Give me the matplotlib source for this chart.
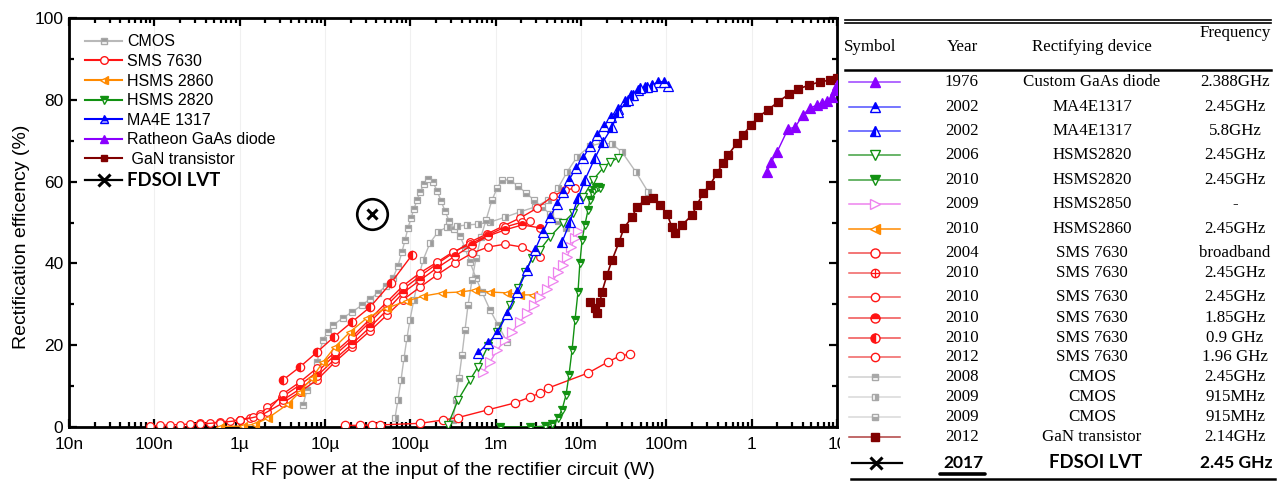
import matplotlib
matplotlib.use("Agg")
import matplotlib.pyplot as plt
from matplotlib.lines import Line2D
from matplotlib.font_manager import FontProperties
from matplotlib.ticker import FixedLocator, LogLocator, MultipleLocator, NullFormatter

plt.rcParams['font.family'] = ['Liberation Sans', 'DejaVu Sans']

# ---------------- data (power in W, efficiency in %) ----------------
cmos_2008_p = [5.52e-6, 6.15e-6, 7.05e-6, 8.06e-6, 9.48e-6, 1.08e-5, 1.24e-5, 1.63e-5, 2.07e-5, 2.71e-5,
               3.37e-5, 4.18e-5, 5.19e-5, 6.26e-5, 7.16e-5, 7.98e-5, 8.67e-5, 9.39e-5, 1.02e-4, 1.10e-4,
               1.20e-4, 1.30e-4, 1.45e-4, 1.61e-4, 1.84e-4, 2.06e-4, 2.29e-4, 2.55e-4, 2.84e-4, 3.25e-4,
               3.82e-4, 4.37e-4, 5.0e-4, 5.89e-4, 6.92e-4, 8.59e-4, 1.07e-3, 1.36e-3]
cmos_2008_e = [5.4, 9.0, 11.5, 15.9, 21.3, 23.2, 24.9, 26.7, 28.1, 29.8,
               31.3, 32.8, 34.5, 36.4, 39.4, 42.8, 45.7, 48.7, 51.1, 53.3,
               55.5, 57.5, 59.4, 60.6, 59.9, 57.7, 55.3, 52.8, 50.4, 48.4,
               46.7, 43.8, 40.3, 36.4, 33.0, 28.6, 24.9, 20.8]

cmos_2009a_p = [6.61e-5, 7.16e-5, 7.78e-5, 8.43e-5, 9.14e-5, 9.9e-5, 1.10e-4, 1.23e-4, 1.41e-4, 1.70e-4,
                2.11e-4, 2.69e-4, 3.52e-4, 4.61e-4, 6.21e-4, 8.59e-4, 1.29e-3, 1.93e-3, 2.89e-3, 4.10e-3,
                5.37e-3, 6.85e-3, 8.97e-3, 1.27e-2, 1.76e-2, 2.31e-2, 3.03e-2, 4.41e-2, 6.10e-2]
cmos_2009a_e = [2.2, 6.6, 11.5, 16.9, 21.8, 26.2, 31.1, 35.9, 40.8, 45.0,
                47.7, 48.9, 49.1, 49.4, 49.6, 50.1, 51.3, 52.6, 53.8, 55.5,
                58.4, 62.3, 66.0, 68.7, 69.4, 69.2, 67.2, 62.3, 57.5]

cmos_2009b_p = [3.16e-4, 3.43e-4, 3.72e-4, 4.03e-4, 4.37e-4, 4.74e-4, 5.28e-4, 5.89e-4, 6.73e-4, 7.71e-4,
                9.06e-4, 1.04e-3, 1.19e-3, 1.47e-3, 1.83e-3, 2.27e-3, 2.81e-3, 3.49e-3, 4.33e-3, 5.37e-3,
                6.67e-3]
cmos_2009b_e = [1.7, 6.6, 12.0, 17.6, 23.7, 29.8, 35.9, 41.3, 46.5, 50.6,
                55.5, 58.4, 60.4, 60.4, 58.9, 57.2, 55.5, 53.8, 52.1, 50.4,
                48.7]

sms_2004_p = [8.9e-8, 1.16e-7, 1.53e-7, 2.0e-7, 2.62e-7, 3.43e-7, 4.49e-7, 5.89e-7, 7.71e-7, 1.0e-6,
              1.32e-6, 1.73e-6, 2.09e-6, 3.13e-6, 5.09e-6, 8.06e-6, 1.31e-5, 2.07e-5, 3.37e-5, 5.33e-5,
              8.20e-5, 1.30e-4, 2.06e-4, 3.16e-4, 5.0e-4, 7.91e-4, 1.22e-3, 1.93e-3, 3.05e-3, 4.70e-3,
              6.50e-3, 8.51e-3]
sms_2004_e = [0.24, 0.4, 0.5, 0.6, 0.7, 0.9, 1.0, 1.2, 1.5, 1.8,
              2.3, 3.1, 4.9, 7.3, 10.3, 13.4, 17.6, 21.3, 25.7, 29.8,
              33.7, 36.9, 39.9, 42.5, 45.2, 47.2, 49.1, 51.1, 53.5, 56.5,
              57.9, 58.4]

sms_2010a_p = [1.0e-6, 1.43e-6, 2.09e-6, 3.22e-6, 5.09e-6, 8.06e-6, 1.31e-5, 2.07e-5, 3.37e-5, 5.33e-5,
               8.20e-5, 1.30e-4, 2.06e-4, 3.16e-4, 5.0e-4, 8.13e-4, 1.29e-3, 2.04e-3, 2.52e-3]
sms_2010a_e = [1.7, 2.4, 3.7, 8.1, 11.0, 14.4, 18.3, 22.0, 26.4, 30.6,
               34.5, 37.7, 40.3, 42.8, 44.7, 46.9, 48.9, 50.1, 50.4]

sms_2010b_p = [3.43e-7, 5.89e-7, 1.0e-6, 1.73e-6, 3.22e-6, 5.09e-6, 8.06e-6, 1.31e-5, 2.07e-5, 3.37e-5,
               5.33e-5, 8.20e-5, 1.30e-4, 2.06e-4, 3.34e-4, 5.28e-4, 8.13e-4, 1.29e-3, 2.04e-3, 3.31e-3]
sms_2010b_e = [0.7, 1.1, 1.6, 2.7, 5.9, 8.6, 11.5, 15.9, 19.6, 23.5,
               27.4, 31.1, 34.2, 37.2, 40.1, 42.5, 44.0, 44.7, 44.0, 41.6]

sms_185_p = [3.22e-6, 5.09e-6, 8.06e-6, 1.31e-5, 2.07e-5, 3.37e-5, 5.33e-5, 8.20e-5, 1.30e-4, 2.06e-4,
             3.34e-4, 5.28e-4, 8.13e-4, 1.29e-3, 2.04e-3, 3.31e-3]
sms_185_e = [6.6, 9.3, 12.5, 16.6, 20.3, 24.4, 28.6, 32.8, 35.9, 38.9,
             41.8, 44.5, 46.7, 48.2, 49.4, 48.7]

sms_09_p = [3.22e-6, 5.09e-6, 8.06e-6, 1.27e-5, 2.07e-5, 3.37e-5, 5.93e-5, 1.05e-4]
sms_09_e = [11.5, 14.7, 18.3, 22.0, 25.7, 29.3, 35.2, 42.1]

sms_2012_p = [1.71e-5, 2.57e-5, 3.56e-5, 4.41e-5, 1.30e-4, 2.41e-4, 3.62e-4, 8.13e-4, 1.69e-3, 2.52e-3,
              3.31e-3, 4.10e-3, 1.21e-2, 2.07e-2, 2.86e-2, 3.75e-2]
sms_2012_e = [0.4, 0.4, 0.5, 0.5, 0.9, 1.7, 2.3, 4.2, 5.9, 7.3,
              8.3, 9.5, 13.2, 15.9, 17.4, 17.8]

hsms2860_p = [5.89e-7, 1.09e-6, 1.51e-6, 2.15e-6, 3.68e-6, 5.09e-6, 7.05e-6, 9.48e-6, 1.31e-5, 1.96e-5,
              3.11e-5, 5.33e-5, 9.14e-5, 1.41e-4, 2.35e-4, 3.82e-4, 5.73e-4, 8.59e-4, 1.36e-3, 1.93e-3,
              2.74e-3]
hsms2860_e = [0.1, 0.24, 0.7, 2.2, 5.6, 8.6, 12.0, 15.9, 19.6, 23.2,
              26.7, 29.1, 30.8, 32.0, 32.8, 33.0, 33.5, 33.0, 32.8, 32.3,
              32.3]

hsms2820_2006_p = [2.76e-4, 3.62e-4, 5.0e-4, 6.21e-4, 8.13e-4, 1.04e-3, 1.47e-3, 1.83e-3, 2.21e-3, 2.67e-3,
                   3.31e-3, 4.33e-3, 6.15e-3, 8.06e-3, 1.06e-2, 1.38e-2, 1.81e-2, 2.19e-2, 2.72e-2]
hsms2820_2006_e = [0.5, 6.6, 11.5, 14.7, 19.8, 23.2, 29.8, 34.0, 37.9, 41.3,
                   43.3, 46.5, 49.9, 52.3, 56.2, 60.4, 63.3, 64.8, 65.8]

hsms2820_2010_p = [1.12e-3, 2.52e-3, 3.79e-3, 4.57e-3, 5.37e-3, 5.99e-3, 6.67e-3, 7.23e-3, 7.85e-3, 8.51e-3,
                   9.22e-3, 9.7e-3, 1.03e-2, 1.11e-2, 1.21e-2, 1.27e-2, 1.35e-2, 1.42e-2, 1.50e-2, 1.58e-2,
                   1.67e-2]
hsms2820_2010_e = [0.0, 0.0, 0.2, 0.7, 2.2, 4.2, 7.8, 12.7, 18.8, 26.2,
                   33.0, 40.1, 45.7, 49.4, 53.1, 55.5, 57.2, 57.9, 58.4, 58.7,
                   58.4]

hsms2850_p = [7.11e-4, 8.59e-4, 1.04e-3, 1.29e-3, 1.55e-3, 1.93e-3, 2.33e-3, 2.81e-3, 3.31e-3, 4.0e-3,
              4.70e-3, 5.37e-3, 6.15e-3, 6.85e-3, 7.64e-3, 8.51e-3, 9.22e-3]
hsms2850_e = [13.4, 15.9, 18.8, 21.3, 23.2, 25.7, 27.9, 29.8, 31.8, 33.7,
              35.7, 37.9, 39.6, 41.6, 44.0, 46.2, 47.9]

ma4e_245_p = [6.21e-4, 8.13e-4, 1.04e-3, 1.36e-3, 1.78e-3, 2.33e-3, 2.89e-3, 3.59e-3, 4.33e-3, 5.23e-3,
              6.15e-3, 7.23e-3, 8.74e-3, 1.06e-2, 1.27e-2, 1.54e-2, 1.86e-2, 2.25e-2, 2.72e-2, 3.28e-2,
              3.85e-2, 4.65e-2, 5.62e-2, 6.79e-2, 7.98e-2, 9.39e-2, 0.105]
ma4e_245_e = [18.1, 20.5, 23.0, 27.6, 33.0, 38.4, 43.3, 47.7, 51.3, 54.5,
              57.5, 60.4, 63.3, 65.8, 68.7, 71.4, 73.6, 75.8, 77.8, 79.7,
              81.2, 82.4, 83.1, 83.6, 84.4, 84.4, 83.4]

ma4e_58_p = [5.99e-3, 7.43e-3, 9.22e-3, 1.11e-2, 1.46e-2, 1.81e-2, 2.31e-2, 2.72e-2, 3.56e-2, 4.06e-2,
             4.91e-2, 5.93e-2, 6.79e-2]
ma4e_58_e = [45.2, 50.1, 56.0, 60.4, 65.8, 69.7, 73.3, 77.0, 80.0, 81.2,
             82.9, 83.1, 83.4]

gan_p = [1.27e-2, 1.46e-2, 1.54e-2, 1.67e-2, 1.76e-2, 2.02e-2, 2.31e-2, 2.79e-2, 3.19e-2, 3.96e-2,
         4.53e-2, 5.62e-2, 6.98e-2, 8.43e-2, 0.102, 0.116, 0.126, 0.153, 0.200, 0.229,
         0.269, 0.325, 0.393, 0.461, 0.528, 0.673, 0.791, 0.98, 1.19, 1.55,
         2.04, 2.74, 3.49, 4.70, 6.32, 8.28, 10.0]
gan_e = [30.6, 29.1, 27.9, 30.6, 33.0, 37.2, 40.8, 45.2, 48.7, 51.3,
         53.8, 55.5, 56.0, 54.3, 52.1, 48.9, 47.4, 49.4, 51.8, 54.3,
         57.2, 59.2, 62.1, 64.5, 66.5, 69.4, 71.4, 73.8, 75.8, 77.5,
         79.5, 81.4, 82.6, 83.6, 84.4, 84.8, 85.3]

raytheon_p = [1.51, 1.69, 1.98, 2.67, 3.22, 4.0, 4.83, 5.83, 6.67, 7.64, 8.73, 9.48, 10.0]
raytheon_e = [62.3, 64.8, 67.2, 72.9, 73.3, 76.3, 78.0, 78.7, 79.2, 79.7, 80.7, 82.4, 83.6]

fdsoi_p = [3.56e-5]
fdsoi_e = [52.1]

x_ticks = [1e-8, 1e-7, 1e-6, 1e-5, 1e-4, 1e-3, 1e-2, 1e-1, 1, 10]
x_ticklabels = ['10n', '100n', '1µ', '10µ', '100µ', '1m', '10m', '100m', '1', '10']
y_ticks = [0, 20, 40, 60, 80, 100]

legend_labels = ['CMOS', 'SMS 7630', 'HSMS 2860', 'HSMS 2820', 'MA4E 1317',
                 'Ratheon GaAs diode', ' GaN transistor', 'FDSOI LVT']

tab_years = ['1976', '2002', '2002', '2006', '2010', '2009', '2010', '2004', '2010', '2010',
             '2010', '2010', '2012', '2008', '2009', '2009', '2012']
tab_devices = ['Custom GaAs diode', 'MA4E1317', 'MA4E1317', 'HSMS2820', 'HSMS2820', 'HSMS2850',
               'HSMS2860', 'SMS 7630', 'SMS 7630', 'SMS 7630', 'SMS 7630', 'SMS 7630', 'SMS 7630',
               'CMOS', 'CMOS', 'CMOS', 'GaN transistor']
tab_freqs = ['2.388GHz', '2.45GHz', '5.8GHz', '2.45GHz', '2.45GHz', '-', '2.45GHz', 'broadband',
             '2.45GHz', '2.45GHz', '1.85GHz', '0.9 GHz', '1.96 GHz', '2.45GHz', '915MHz', '915MHz',
             '2.14GHz']
tab_last = ['2017', 'FDSOI LVT', '2.45 GHz']

# ---------------- styles ----------------
GRAY = '#b9b9b9'
RED = '#ff1414'
ORANGE = '#ff8a00'
GREEN = '#129112'
BLUE = '#0000ff'
PURPLE = '#8a00ff'
VIOLET = '#ee82ee'
GAN = '#800000'

fig = plt.figure(figsize=(12.8, 4.83), dpi=100)
ax = fig.add_axes([69 / 1280, 1 - 427 / 483, (837 - 69) / 1280, (427 - 18) / 483])


def curve(p, e, color, marker, ms=5, fill='none', mfc=None, lw=1.0, mew=0.9, z=3, mec=None):
    kw = dict(color=color, lw=lw, marker=marker, ms=ms, mew=mew, zorder=z,
              mec=mec if mec else color)
    if fill == 'none':
        kw.update(mfc='white')
    elif fill == 'full':
        kw.update(mfc=mfc if mfc else color)
    else:
        kw.update(fillstyle=fill, mfc=mfc if mfc else color, markerfacecoloralt='white')
    ax.plot(p, e, **kw)


# CMOS
curve(cmos_2008_p, cmos_2008_e, GRAY, 's', ms=3.8, fill='top', mfc='#9a9a9a', mec='#a8a8a8')
curve(cmos_2009a_p, cmos_2009a_e, GRAY, 's', ms=3.8, fill='right', mfc='#9a9a9a', mec='#a8a8a8')
curve(cmos_2009b_p, cmos_2009b_e, GRAY, 's', ms=3.8, fill='bottom', mfc='#9a9a9a', mec='#a8a8a8')
# SMS 7630
curve(sms_2004_p, sms_2004_e, RED, 'o', ms=5.5)
curve(sms_2010a_p, sms_2010a_e, RED, 'o', ms=5.5)
curve(sms_2010b_p, sms_2010b_e, RED, 'o', ms=5.5)
curve(sms_185_p, sms_185_e, RED, 'o', ms=5.5, fill='top')
curve(sms_09_p, sms_09_e, RED, 'o', ms=6, fill='left')
curve(sms_2012_p, sms_2012_e, RED, 'o', ms=6)
# HSMS 2860
curve(hsms2860_p, hsms2860_e, ORANGE, '<', ms=6, fill='right')
# HSMS 2850
curve(hsms2850_p, hsms2850_e, VIOLET, '>', ms=7)
# HSMS 2820
curve(hsms2820_2006_p, hsms2820_2006_e, GREEN, 'v', ms=6)
curve(hsms2820_2010_p, hsms2820_2010_e, GREEN, 'v', ms=6, fill='top')
# MA4E 1317
curve(ma4e_245_p, ma4e_245_e, BLUE, '^', ms=6.5, fill='top')
curve(ma4e_58_p, ma4e_58_e, BLUE, '^', ms=6.5, fill='left')
# GaN
curve(gan_p, gan_e, GAN, 's', ms=5.5, fill='full', lw=1.2)
# Raytheon
curve(raytheon_p, raytheon_e, PURPLE, '^', ms=6.5, fill='full')
# FDSOI LVT
ax.plot(fdsoi_p, fdsoi_e, ls='none', marker='o', ms=22, mfc='none', mec='black', mew=1.9, zorder=5)
ax.plot(fdsoi_p, fdsoi_e, ls='none', marker='x', ms=7, mec='black', mew=2.2, zorder=5)

# axes formatting
ax.set_xscale('log')
ax.set_xlim(1e-8, 10)
ax.set_ylim(0, 100)
ax.xaxis.set_major_locator(FixedLocator(x_ticks))
ax.set_xticklabels(x_ticklabels)
ax.xaxis.set_minor_locator(LogLocator(base=10, subs=range(2, 10), numticks=20))
ax.xaxis.set_minor_formatter(NullFormatter())
ax.set_yticks(y_ticks)
ax.yaxis.set_minor_locator(MultipleLocator(10))
ax.tick_params(which='both', direction='in', top=True, right=True, labelsize=12.5, colors='black')
ax.tick_params(which='major', length=5.5, width=1.6)
ax.tick_params(which='minor', length=3.5, width=1.6)
ax.tick_params(axis='x', pad=7)
ax.tick_params(axis='y', pad=4)
for s in ax.spines.values():
    s.set_linewidth(2.0)
ax.grid(True, which='major', axis='x', color='#f0f0f0', lw=0.8, zorder=0)
ax.set_axisbelow(True)

ax.set_xlabel('RF power at the input of the rectifier circuit (W)', fontsize=14)
ax.xaxis.set_label_coords(0.5, -0.086)
ax.set_ylabel('Rectification efficency (%)', fontsize=14)
ax.yaxis.set_label_coords(-0.051, 0.466)

# legend
handles = [
    Line2D([], [], color=GRAY, marker='s', ms=4, mfc='#9a9a9a', mec='#a8a8a8', fillstyle='top', markerfacecoloralt='white'),
    Line2D([], [], color=RED, marker='o', ms=5.5, mfc='white'),
    Line2D([], [], color=ORANGE, marker='<', ms=6, fillstyle='right', markerfacecoloralt='white'),
    Line2D([], [], color=GREEN, marker='v', ms=6, fillstyle='top', markerfacecoloralt='white'),
    Line2D([], [], color=BLUE, marker='^', ms=6, fillstyle='top', markerfacecoloralt='#b0b0ff'),
    Line2D([], [], color=PURPLE, marker='^', ms=6),
    Line2D([], [], color=GAN, marker='s', ms=5),
    Line2D([], [], color='black', marker='x', ms=9, mew=2.2, lw=1.6),
]
leg = ax.legend(handles, legend_labels, loc='upper left', frameon=False, fontsize=11.5,
                handlelength=2.3, handletextpad=0.3, labelspacing=0.29, borderaxespad=0.62,
                borderpad=0.4)
leg.get_texts()[-1].set_fontproperties(FontProperties(family='Lato', weight='bold', size=13.3))

# ---------------- table on the right ----------------
tax = fig.add_axes([840 / 1280, 0, 440 / 1280, 1], zorder=5)
tax.set_xlim(840, 1280)
tax.set_ylim(483, 0)
tax.set_xticks([])
tax.set_yticks([])
for s in tax.spines.values():
    s.set_visible(False)
tax.patch.set_facecolor('white')

serif = ['Liberation Serif', 'DejaVu Serif']
tfs = 12.2
tax.plot([845, 1271], [19.5, 19.5], color='black', lw=1.2)
tax.plot([845, 1271], [22.8, 22.8], color='black', lw=1.2)
tax.plot([845, 1271], [70, 70], color='black', lw=1.8)
tax.plot([851, 1275], [479, 479], color='black', lw=1.8)

tax.text(870, 47, 'Symbol', family=serif, fontsize=tfs, ha='center', va='center')
tax.text(962, 47, 'Year', family=serif, fontsize=tfs, ha='center', va='center')
tax.text(1092, 47, 'Rectifying device', family=serif, fontsize=tfs, ha='center', va='center')
tax.text(1235, 33, 'Frequency', family=serif, fontsize=tfs, ha='center', va='center')

row_y = [82, 107, 131, 155, 180, 204, 229, 253, 273, 297, 318, 338, 357, 377, 397, 417, 437]
row_sym = [
    dict(c=PURPLE, lc='#9b40ff', m='^', fs='full', ms=7),
    dict(c=BLUE, lc='#5050ff', m='^', fs='top', ms=6.5),
    dict(c=BLUE, lc='#5050ff', m='^', fs='left', ms=6.5),
    dict(c=GREEN, lc='#40a040', m='v', fs='none', ms=6.5),
    dict(c=GREEN, lc='#40a040', m='v', fs='top', ms=7),
    dict(c=VIOLET, lc=VIOLET, m='>', fs='none', ms=7.5),
    dict(c=ORANGE, lc=ORANGE, m='<', fs='right', ms=7),
    dict(c=RED, lc='#f05050', m='o', fs='none', ms=6.5),
    dict(c=RED, lc='#f06060', m='o', fs='none', ms=6, plus=True),
    dict(c=RED, lc='#f06060', m='o', fs='none', ms=6),
    dict(c=RED, lc='#f05050', m='o', fs='top', ms=6.5),
    dict(c=RED, lc='#f05050', m='o', fs='left', ms=6.5),
    dict(c=RED, lc='#f06060', m='o', fs='none', ms=6),
    dict(c='#a8a8a8', lc='#cfcfcf', m='s', fs='top', ms=5),
    dict(c='#a8a8a8', lc='#d8d8d8', m='s', fs='right', ms=5),
    dict(c='#a8a8a8', lc='#d8d8d8', m='s', fs='bottom', ms=5),
    dict(c=GAN, lc='#b04040', m='s', fs='full', ms=6),
]
for y, sym, yr, dev, fr in zip(row_y, row_sym, tab_years, tab_devices, tab_freqs):
    tax.plot([849, 900], [y, y], color=sym['lc'], lw=1.1)
    if sym['fs'] == 'none':
        tax.plot([875], [y], marker=sym['m'], ms=sym['ms'], mfc='white', mec=sym['c'], mew=1.0)
    elif sym['fs'] == 'full':
        tax.plot([875], [y], marker=sym['m'], ms=sym['ms'], mfc=sym['c'], mec=sym['c'])
    else:
        tax.plot([875], [y], marker=sym['m'], ms=sym['ms'], fillstyle=sym['fs'], mfc=sym['c'],
                 markerfacecoloralt='white', mec=sym['c'], mew=1.0)
    if sym.get('plus'):
        tax.plot([875], [y], marker='+', ms=6, mec=sym['c'], mew=0.9)
    tax.text(962, y, yr, family=serif, fontsize=tfs, ha='center', va='center')
    tax.text(1092, y, dev, family=serif, fontsize=tfs, ha='center', va='center')
    tax.text(1235, y, fr, family=serif, fontsize=tfs, ha='center', va='center')

# last row: this work
yl = 463
tax.plot([852, 902], [yl, yl], color='black', lw=1.6)
tax.plot([876], [yl], marker='x', ms=9, mec='black', mew=2.2)
bold = dict(family=['Lato', 'DejaVu Sans'], weight='bold')
tax.text(963, yl, tab_last[0], ha='center', va='center', fontsize=12.5, **bold)
tax.plot([940, 985], [473.5, 473.5], color='black', lw=2.6, solid_capstyle='round')
tax.text(1096, yl, tab_last[1], ha='center', va='center', fontsize=13.3, **bold)
tax.text(1236, yl, tab_last[2], ha='center', va='center', fontsize=12.5, **bold)

fig.savefig('out.png', dpi=100)
